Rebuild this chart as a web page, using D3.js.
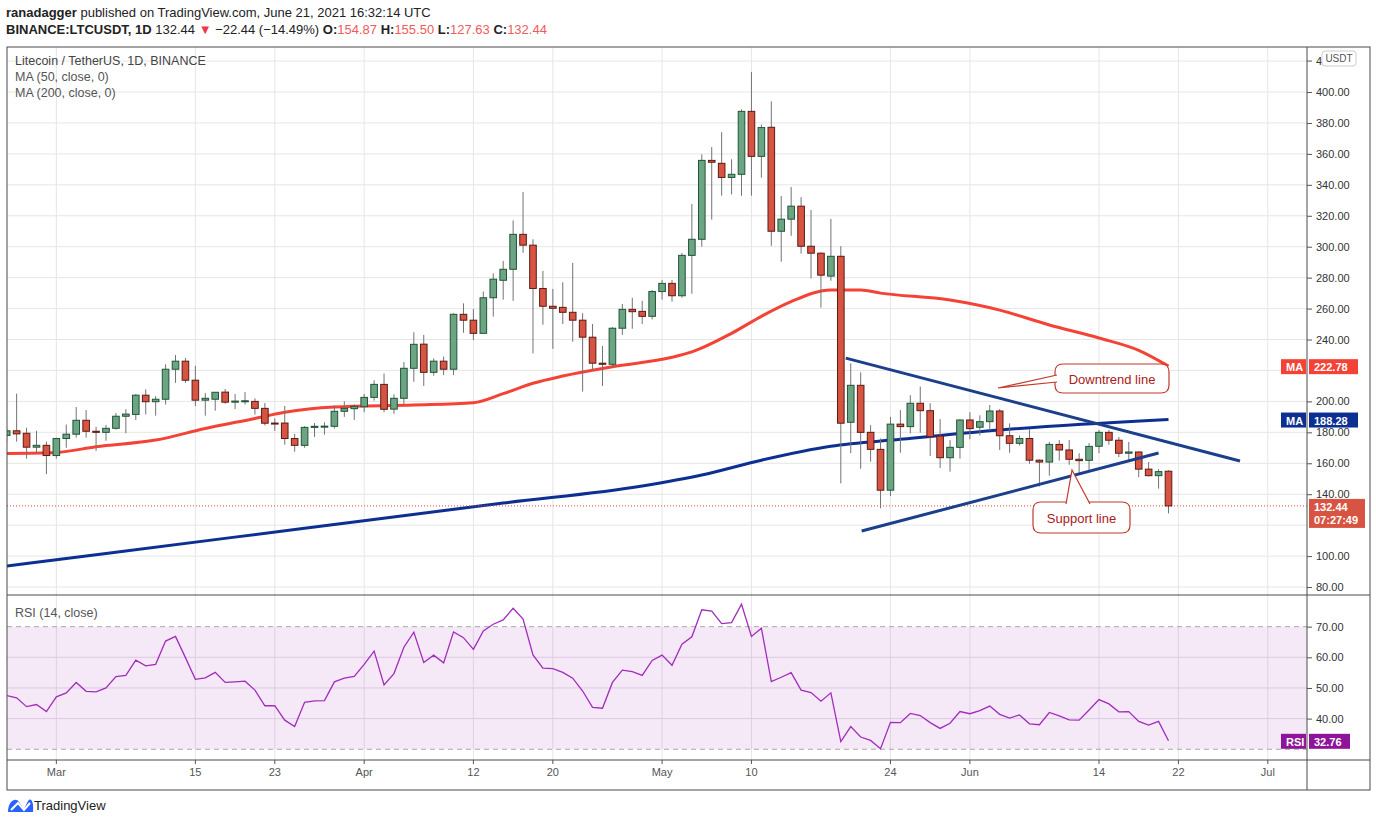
<!DOCTYPE html>
<html lang="en">
  <head>
    <meta charset="utf-8">
    <script src="https://d3js.org/d3.v7.min.js"></script>
    <style>
      body { margin: 0; background: #fff; }
      text { font-family: "Liberation Sans", Arial, sans-serif; }
    </style>
  </head>
  <body>
    <svg width="1376" height="823"></svg>
    <script>
      // Candles, one per day from Feb 24 2021 (index 0) to Jun 21 2021 (index 117)
      var startDate = new Date(Date.UTC(2021, 1, 24));
      var opens  = [178,181,179.4,170.4,171.6,165,176,178.8,187.8,180.7,180,182.6,190.4,191.6,204,199.8,201.4,220.8,226,213.7,200.8,201.4,206,199.5,200.2,200,195.5,186,186,176,171.6,183.2,183.6,183.9,193.6,195.3,196.6,202.6,211,195,202,221.4,237,218.8,226,220.8,256.3,252.5,244,267,278.3,285.4,308,301,273,261.5,260.8,257.6,252.5,241.5,224.7,224,247.3,259.5,258.2,255,271,276.3,268.3,294.4,304.8,355.8,353.9,344.8,346.8,387.5,358.4,377.2,310,317.8,326.2,300.3,295.8,281,293.8,186.5,210.4,180,169,142.6,185.3,183.7,198.8,194,177.6,163.6,170.3,188,183.3,186.9,193.8,177.8,172.9,176,162,160.8,172.2,168.6,162.6,161.9,171,180,174.9,166.5,167.3,156.2,152,154.87];
      var highs  = [183,205,183,181,174,176.5,185,196.4,194.4,183.6,184.8,192.5,195,204.8,207.8,203.5,224,230,228,223,205.4,206,208,204.8,206,202,199,189,197,179,184,186,186.5,197.5,200,198,204.8,213.6,218,204.6,225.5,244.7,243,227.8,229,257,263.4,259.7,271,282.8,290.8,317,335.4,304.8,284.3,272.7,277,289.5,257,250,235.8,248,263,267,265,272,278.5,278.5,296,327.6,359.7,364.4,374,356.5,388.8,413,379,394,332.8,338.6,332,323.7,296.4,318,300.4,224.6,218.8,184.6,176,190,194.4,204,209.6,198.8,188.6,175,188.4,193,191,197.7,195,185.8,178,182,162.5,173.8,175,175,166.5,173,181.5,181.5,177,173.8,167.5,160.8,156.2,155.5];
      var lows   = [174,174,163,167,153,163,170,176.6,176.6,168,174.6,181.8,179.4,188,191.6,190.8,198,212,212,197,190.8,194,198.5,195,198,191.5,184.4,181,172,167.5,170,177,178.5,182.4,190,188,193,200.5,193,192,198.3,212.7,210,216.6,217,217,244.4,239.7,244,254.8,265.8,265,296,231,249.6,234,250,238.6,206.3,220,210,222,243,247,250,253,265.8,264.5,267,269.6,300,317.5,333,333.9,333,333,344.6,300.6,290.3,307,295.5,279.4,260.6,278,147,166.5,156.5,161,130.9,138.8,166.8,179.4,179.8,164.7,157,154.6,163,175.5,178,181,168.6,166.8,171.5,159.7,145,152,161.7,159,154,155.6,166.5,172,164,162,151,151.5,143.6,127.63];
      var closes = [181,179,170.4,171.6,165,176,178.8,187.8,180.7,180,182.6,190.4,191.8,204,199.8,201.4,220.8,226,213.7,200.8,202,205.9,199.5,200.2,200.4,195.5,185.9,185.8,176,171.6,183.2,183.9,184,193.6,195.5,196.8,202.6,211,194.9,202,221.4,236.9,218.8,226,220.8,256.3,252.5,244,267,279,285.4,308,301,273,261.5,260.2,257.6,252.5,241.5,224.7,224,247.3,259.5,258,255,271,276.3,268.3,294.4,304.8,355.8,354.6,344.8,346.8,387.5,358.4,377,310,317.8,326.2,300.3,295.8,281.6,293.8,185.9,210.4,180,169,142.6,185.3,183.7,198.8,194,177.2,163.6,170.3,188,182.4,186.9,193.8,177.8,172.9,176,162,160.8,172.2,168.6,162.6,161.7,170.9,180,174.9,166.5,167.3,156.2,152,154.6,132.44];

      // Moving averages (day index -> value)
      var ma50Days  = [0,5,9,15,20,25,28,33,41,47,50,53,56,61,67,69,73,76,79,83,86,88,95,100,105,110,114,117];
      var ma50Vals  = [166.4,167,170.7,175,182.5,189,193,196.4,197.7,199.2,205,211.7,216.4,222.4,228.5,232,244,255,264.5,272,272,270,265.5,259,249.4,241,233,222.78];
      var ma200Days = [0,10,30,50,64,70,76,83,90,100,117];
      var ma200Vals = [93.6,101.7,118,134.3,145.3,152.4,162,171,175.5,181.5,188.28];

      // RSI (14, close), one value per candle
      var rsi = [47.5,46.8,43.9,44.6,42.3,47.1,48.4,51.8,48.9,48.7,50,53.7,54.1,59.1,57.2,57.7,65.3,66.8,59.9,52.8,53.3,55.1,51.8,52,52.2,49.3,44.2,44.2,39.5,37.4,45.3,45.8,45.9,52,53.2,53.8,57.7,62,51,54.7,63.3,68.2,58.3,60.7,58.2,68.3,66.4,62.6,68.6,70.8,72.2,76,72.5,60.8,56.5,56.3,55.1,53.2,49,43.7,43.4,51.8,55.8,55.3,54.1,59,60.7,57.4,64.3,66.7,75.5,75.1,71,71.3,77.3,66.8,69.5,52.1,53.5,55,49.3,48.5,45.7,48.4,32.5,37.4,34,32.9,30.2,38.8,38.7,41.7,41,38.7,36.8,38.5,42.3,41.6,42.6,44.1,41.4,40.2,41.2,38.3,38,42,40.9,39.6,39.5,42.8,46.2,44.8,42.2,42.3,39.1,37.9,39.1,32.76];

      // Trend lines drawn by the author: [day index, price]
      var downtrend = [[84.5, 228], [124.2, 161.5]];
      var support   = [[86.1, 116.2], [116, 166.6]];

      // price labels that are not hidden behind the value tags
      var priceTicks = [80, 100, 140, 160, 180, 200, 240, 260, 280, 300, 320, 340, 360, 380, 400];
      var gridTicks = d3.range(80, 421, 20);
      var rsiTicks = [40, 50, 60, 70];
      var dateTicks = [[2,1,"Mar"],[2,15,"15"],[2,23,"23"],[3,1,"Apr"],[3,12,"12"],[3,20,"20"],[4,1,"May"],[4,10,"10"],[4,24,"24"],[5,1,"Jun"],[5,14,"14"],[5,22,"22"],[6,1,"Jul"]];

      var day = 864e5;
      var dateOf = function(i) { return new Date(startDate.getTime() + i * day); };
      var candles = opens.map(function(o, i) {
        return {date: dateOf(i), o: o, h: highs[i], l: lows[i], c: closes[i]};
      });

      var svg = d3.select("svg");
      var left = 7, right = 1307, axisRight = 1370;
      var pTop = 47, pBot = 595, rTop = 596, rBot = 760, xBot = 790;

      var x = d3.scaleUtc().domain([startDate, dateOf(117)]).range([6.7, 1168.5]);
      var y = d3.scaleLinear().domain([74.85, 429.1]).range([pBot, pTop]);
      var yr = d3.scaleLinear().domain([26.5, 80]).range([rBot, rTop]);

      svg.append("clipPath").attr("id", "cp").append("rect")
        .attr("x", left).attr("y", pTop).attr("width", right - left).attr("height", pBot - pTop);
      svg.append("clipPath").attr("id", "cr").append("rect")
        .attr("x", left).attr("y", rTop).attr("width", right - left).attr("height", rBot - rTop);

      // grid
      var grid = svg.append("g").attr("stroke", "#e6e6e6").attr("stroke-width", 1);
      gridTicks.forEach(function(v) {
        grid.append("line").attr("x1", left).attr("x2", right).attr("y1", y(v)).attr("y2", y(v));
      });
      dateTicks.forEach(function(t) {
        var xx = x(new Date(Date.UTC(2021, t[0], t[1])));
        grid.append("line").attr("x1", xx).attr("x2", xx).attr("y1", pTop).attr("y2", rBot);
      });

      // RSI band
      svg.append("rect").attr("x", left).attr("width", right - left)
        .attr("y", yr(70)).attr("height", yr(30) - yr(70)).attr("fill", "#9c27b0").attr("fill-opacity", 0.1);
      [40, 50, 60].forEach(function(v) {
        svg.append("line").attr("x1", left).attr("x2", right).attr("y1", yr(v)).attr("y2", yr(v))
          .attr("stroke", "#dcc8e6");
      });
      [30, 70].forEach(function(v) {
        svg.append("line").attr("x1", left).attr("x2", right).attr("y1", yr(v)).attr("y2", yr(v))
          .attr("stroke", "#aaa").attr("stroke-dasharray", "5,4");
      });

      // moving averages
      var maLine = d3.line().curve(d3.curveMonotoneX)
        .x(function(d) { return x(dateOf(d[0])); }).y(function(d) { return y(d[1]); });
      var gp = svg.append("g").attr("clip-path", "url(#cp)");
      gp.append("path").datum(d3.zip(ma200Days, ma200Vals)).attr("d", maLine)
        .attr("fill", "none").attr("stroke", "#0d2f92").attr("stroke-width", 3);
      gp.append("path").datum(d3.zip(ma50Days, ma50Vals)).attr("d", maLine)
        .attr("fill", "none").attr("stroke", "#f44336").attr("stroke-width", 3);

      // current price line
      gp.append("line").attr("x1", left).attr("x2", right).attr("y1", y(132.44)).attr("y2", y(132.44))
        .attr("stroke", "#e0493a").attr("stroke-dasharray", "1,2");

      // candles
      var cg = gp.append("g").selectAll("g").data(candles).enter().append("g");
      cg.append("line")
        .attr("x1", function(d) { return x(d.date); }).attr("x2", function(d) { return x(d.date); })
        .attr("y1", function(d) { return y(d.h); }).attr("y2", function(d) { return y(d.l); })
        .attr("stroke", "#737375");
      cg.append("rect")
        .attr("x", function(d) { return x(d.date) - 3.3; }).attr("width", 6.6)
        .attr("y", function(d) { return y(Math.max(d.o, d.c)); })
        .attr("height", function(d) { return Math.max(1, Math.abs(y(d.o) - y(d.c))); })
        .attr("fill", function(d) { return d.c >= d.o ? "#6ba583" : "#d75442"; })
        .attr("stroke", function(d) { return d.c >= d.o ? "#225437" : "#5b1a13"; })
        .attr("stroke-width", 1);

      // trend lines
      [downtrend, support].forEach(function(seg) {
        gp.append("line")
          .attr("x1", x(dateOf(seg[0][0]))).attr("y1", y(seg[0][1]))
          .attr("x2", x(dateOf(seg[1][0]))).attr("y2", y(seg[1][1]))
          .attr("stroke", "#1c3f8c").attr("stroke-width", 3);
      });

      // callouts
      function callout(bx, by, bw, bh, label, tip, base) {
        var p = d3.path();
        p.moveTo(bx + 8, by); p.lineTo(bx + bw - 8, by);
        p.quadraticCurveTo(bx + bw, by, bx + bw, by + 8);
        p.lineTo(bx + bw, by + bh - 8);
        p.quadraticCurveTo(bx + bw, by + bh, bx + bw - 8, by + bh);
        p.lineTo(bx + 8, by + bh);
        p.quadraticCurveTo(bx, by + bh, bx, by + bh - 8);
        p.lineTo(bx, by + 8);
        p.quadraticCurveTo(bx, by, bx + 8, by);
        svg.append("path").attr("d", p.toString()).attr("fill", "#fff").attr("stroke", "#c0392b").attr("stroke-width", 1.2);
        svg.append("path").attr("d", "M" + base[0] + "L" + tip + "L" + base[1])
          .attr("fill", "#fff").attr("stroke", "#c0392b").attr("stroke-width", 1.2);
        svg.append("text").attr("x", bx + bw / 2).attr("y", by + bh / 2 + 5).attr("text-anchor", "middle")
          .attr("font-size", 13).attr("fill", "#a8201a").text(label);
      }
      callout(1055, 364, 114, 29, "Downtrend line", [998, 388], [[1057, 375], [1057, 382]]);
      callout(1033, 502, 97, 31, "Support line", [1072, 470], [[1066, 504], [1090, 504]]);

      // RSI line
      var rsiLine = d3.line().x(function(d, i) { return x(dateOf(i)); }).y(function(d) { return yr(d); });
      svg.append("g").attr("clip-path", "url(#cr)").append("path").datum(rsi).attr("d", rsiLine)
        .attr("fill", "none").attr("stroke", "#a22cbc").attr("stroke-width", 1.3);

      // frames
      var fr = svg.append("g").attr("stroke", "#4a4a4a").attr("fill", "none");
      fr.append("rect").attr("x", left).attr("y", pTop).attr("width", axisRight - left).attr("height", xBot - pTop);
      fr.append("line").attr("x1", left).attr("x2", axisRight).attr("y1", pBot).attr("y2", pBot);
      fr.append("line").attr("x1", left).attr("x2", axisRight).attr("y1", rBot).attr("y2", rBot);
      fr.append("line").attr("x1", right).attr("x2", right).attr("y1", pTop).attr("y2", xBot);

      // axes
      function styleAxis(g) {
        g.select(".domain").remove();
        g.selectAll("line").attr("stroke", "#555");
        g.selectAll("text").attr("font-size", 11).attr("fill", "#333").attr("font-family", "Liberation Sans, Arial");
      }
      svg.append("g").attr("transform", "translate(" + right + ",0)")
        .call(d3.axisRight(y).tickValues(priceTicks).tickFormat(d3.format(".2f")).tickSize(5).tickPadding(4))
        .call(styleAxis);
      svg.append("g").attr("transform", "translate(" + right + ",0)")
        .call(d3.axisRight(yr).tickValues(rsiTicks).tickFormat(d3.format(".2f")).tickSize(5).tickPadding(4))
        .call(styleAxis);
      // the 420 label sits mostly under the USDT badge: only its first digit shows
      svg.append("text").attr("x", 1316).attr("y", y(420) + 4).attr("font-size", 11).attr("fill", "#333").text("4");
      svg.append("line").attr("x1", right).attr("x2", right + 5).attr("y1", y(420)).attr("y2", y(420)).attr("stroke", "#555");

      var xa = svg.append("g");
      dateTicks.forEach(function(t) {
        var xx = x(new Date(Date.UTC(2021, t[0], t[1])));
        xa.append("line").attr("x1", xx).attr("x2", xx).attr("y1", rBot).attr("y2", rBot + 4).attr("stroke", "#555");
        xa.append("text").attr("x", xx).attr("y", rBot + 16).attr("text-anchor", "middle")
          .attr("font-size", 11).attr("fill", "#555").text(t[2]);
      });

      // right-side value tags
      function tag(xx, yy, w, h, fill, lines) {
        svg.append("rect").attr("x", xx).attr("y", yy).attr("width", w).attr("height", h).attr("fill", fill);
        lines.forEach(function(l, k) {
          svg.append("text").attr("x", xx + 5).attr("y", yy + 12 + k * 13).attr("font-size", 11)
            .attr("font-weight", "bold").attr("fill", "#fff").text(l);
        });
      }
      tag(1281, y(222.78) - 7, 25, 15, "#f44336", ["MA"]);
      tag(1309, y(222.78) - 7, 49, 15, "#f44336", ["222.78"]);
      tag(1281, y(188.28) - 7, 25, 15, "#0d2f92", ["MA"]);
      tag(1309, y(188.28) - 7, 49, 15, "#0d2f92", ["188.28"]);
      tag(1309, y(132.44) - 7, 56, 29, "#d75442", ["132.44", "07:27:49"]);
      tag(1281, yr(32.76) - 7, 25, 15, "#8e1599", ["RSI"]);
      tag(1309, yr(32.76) - 7, 41, 15, "#8e1599", ["32.76"]);
      svg.append("rect").attr("x", 1322).attr("y", 51).attr("width", 34).attr("height", 15).attr("rx", 3)
        .attr("fill", "#fff").attr("stroke", "#ccc");
      svg.append("text").attr("x", 1339).attr("y", 62).attr("text-anchor", "middle").attr("font-size", 10)
        .attr("fill", "#555").text("USDT");

      // legends
      svg.append("text").attr("x", 15).attr("y", 65).attr("font-size", 12.5).attr("fill", "#444").text("Litecoin / TetherUS, 1D, BINANCE");
      svg.append("text").attr("x", 15).attr("y", 81).attr("font-size", 12.5).attr("fill", "#555").text("MA (50, close, 0)");
      svg.append("text").attr("x", 15).attr("y", 97).attr("font-size", 12.5).attr("fill", "#555").text("MA (200, close, 0)");
      svg.append("text").attr("x", 15).attr("y", 617).attr("font-size", 12.5).attr("fill", "#555").text("RSI (14, close)");

      // header
      var h1 = svg.append("text").attr("x", 6).attr("y", 17).attr("font-size", 13).attr("fill", "#222");
      h1.append("tspan").attr("font-weight", "bold").text("ranadagger");
      h1.append("tspan").text(" published on TradingView.com, June 21, 2021 16:32:14 UTC");
      var h2 = svg.append("text").attr("x", 6).attr("y", 34).attr("font-size", 13).attr("fill", "#222");
      h2.append("tspan").attr("font-weight", "bold").text("BINANCE:LTCUSDT, 1D ");
      h2.append("tspan").text(" 132.44 ");
      h2.append("tspan").attr("fill", "#f23645").text("▼");
      h2.append("tspan").text(" −22.44 (−14.49%) ");
      [["O:", "154.87"], ["H:", "155.50"], ["L:", "127.63"], ["C:", "132.44"]].forEach(function(p) {
        h2.append("tspan").attr("font-weight", "bold").text(p[0]);
        h2.append("tspan").attr("fill", "#f05a5a").text(p[1] + " ");
      });

      // footer logo
      var logo = svg.append("g").attr("transform", "translate(8,797)");
      logo.append("path").attr("d", "M0,15 C0,4 8,0 11,5 L16,12 L20,4 C23,0 26,5 25,15 Z").attr("fill", "#2962ff");
      logo.append("path").attr("d", "M3,13 L10,6 L16,13 L22,6").attr("fill", "none").attr("stroke", "#fff").attr("stroke-width", 2);
      svg.append("text").attr("x", 34).attr("y", 810).attr("font-size", 13).attr("fill", "#222").text("TradingView");
    </script>
  </body>
</html>
